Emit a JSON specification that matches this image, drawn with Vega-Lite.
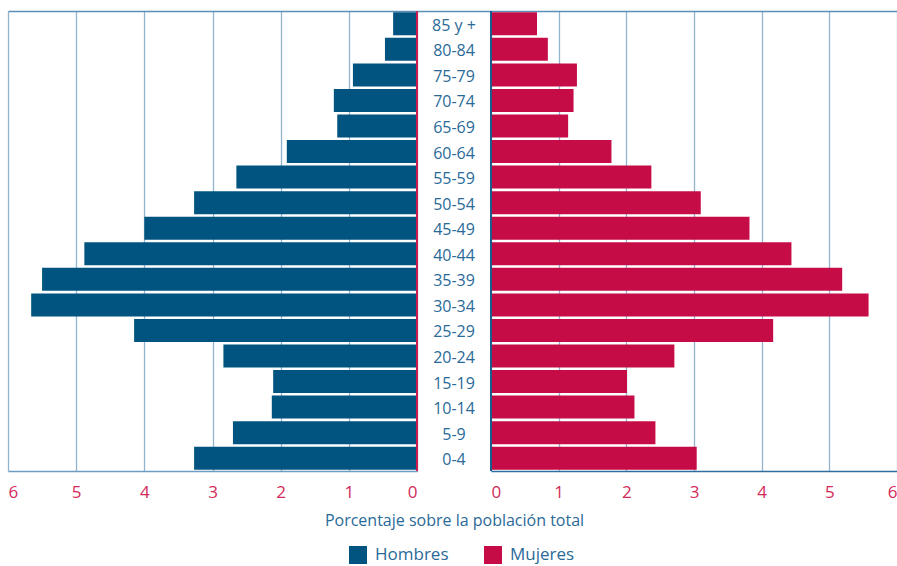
{
  "$schema": "https://vega.github.io/schema/vega-lite/v6.json",
  "padding": {"left": 8, "top": 10, "right": 0, "bottom": 0},
  "background": "white",
  "spacing": 0,
  "bounds": "flush",
  "config": {"view": {"stroke": null}, "font": "Open Sans"},
  "data": {"values": [
    {"age": "85 y +", "sex": "Hombres", "value": 0.35}, {"age": "85 y +", "sex": "Mujeres", "value": 0.68},
    {"age": "80-84", "sex": "Hombres", "value": 0.47}, {"age": "80-84", "sex": "Mujeres", "value": 0.84},
    {"age": "75-79", "sex": "Hombres", "value": 0.94}, {"age": "75-79", "sex": "Mujeres", "value": 1.27},
    {"age": "70-74", "sex": "Hombres", "value": 1.22}, {"age": "70-74", "sex": "Mujeres", "value": 1.22},
    {"age": "65-69", "sex": "Hombres", "value": 1.17}, {"age": "65-69", "sex": "Mujeres", "value": 1.14},
    {"age": "60-64", "sex": "Hombres", "value": 1.91}, {"age": "60-64", "sex": "Mujeres", "value": 1.78},
    {"age": "55-59", "sex": "Hombres", "value": 2.65}, {"age": "55-59", "sex": "Mujeres", "value": 2.37},
    {"age": "50-54", "sex": "Hombres", "value": 3.27}, {"age": "50-54", "sex": "Mujeres", "value": 3.1},
    {"age": "45-49", "sex": "Hombres", "value": 4.0}, {"age": "45-49", "sex": "Mujeres", "value": 3.82},
    {"age": "40-44", "sex": "Hombres", "value": 4.88}, {"age": "40-44", "sex": "Mujeres", "value": 4.44},
    {"age": "35-39", "sex": "Hombres", "value": 5.5}, {"age": "35-39", "sex": "Mujeres", "value": 5.19},
    {"age": "30-34", "sex": "Hombres", "value": 5.66}, {"age": "30-34", "sex": "Mujeres", "value": 5.58},
    {"age": "25-29", "sex": "Hombres", "value": 4.15}, {"age": "25-29", "sex": "Mujeres", "value": 4.17},
    {"age": "20-24", "sex": "Hombres", "value": 2.84}, {"age": "20-24", "sex": "Mujeres", "value": 2.71},
    {"age": "15-19", "sex": "Hombres", "value": 2.11}, {"age": "15-19", "sex": "Mujeres", "value": 2.01},
    {"age": "10-14", "sex": "Hombres", "value": 2.13}, {"age": "10-14", "sex": "Mujeres", "value": 2.12},
    {"age": "5-9", "sex": "Hombres", "value": 2.7}, {"age": "5-9", "sex": "Mujeres", "value": 2.43},
    {"age": "0-4", "sex": "Hombres", "value": 3.27}, {"age": "0-4", "sex": "Mujeres", "value": 3.04}
  ]},
  "hconcat": [
    {
      "width": 409, "height": 460,
      "transform": [{"filter": "datum.sex === 'Hombres'"}],
      "layer": [
        {
          "mark": {"type": "bar"},
          "encoding": {
            "y": {"field": "age", "type": "nominal", "sort": null, "axis": null,
                  "scale": {"domain": ["85 y +","80-84","75-79","70-74","65-69","60-64","55-59","50-54","45-49","40-44","35-39","30-34","25-29","20-24","15-19","10-14","5-9","0-4"], "paddingInner": 0.1, "paddingOuter": 0.05}},
            "x": {"field": "value", "type": "quantitative",
                  "scale": {"domain": [0, 6], "reverse": true, "nice": false},
                  "axis": {"values": [0,1,2,3,4,5,6], "grid": true, "gridColor": "#8fb4d0", "gridWidth": 1.3, "ticks": false, "domain": true, "domainColor": "#6d9dc3", "domainWidth": 1.5, "labelFlush": true, "labelColor": "#d22a5a", "labelFontSize": 17, "labelPadding": 13, "title": null}},
            "color": {"field": "sex", "type": "nominal",
                      "scale": {"domain": ["Hombres", "Mujeres"], "range": ["#00547f", "#c60c46"]},
                      "legend": {"orient": "none", "legendX": 341, "legendY": 535, "direction": "horizontal", "title": null, "symbolType": "square", "symbolSize": 324, "symbolStrokeWidth": 0, "labelFontSize": 17, "labelColor": "#2a6a98", "columnPadding": 35, "labelOffset": 8}}
          }
        },
        {
          "mark": {"type": "rule", "color": "#cc1a50", "strokeWidth": 2},
          "encoding": {"x": {"datum": 0, "type": "quantitative", "axis": {"orient": "top", "labels": false, "ticks": false, "grid": false, "domain": true, "domainColor": "#5b8fb8", "domainWidth": 1.5, "title": null}}}
        }
      ],
      "resolve": {"axis": {"x": "independent"}}
    },
    {
      "width": 74, "height": 460,
      "transform": [{"filter": "datum.sex === 'Hombres'"}],
      "layer": [
        {
          "mark": {"type": "text", "fontSize": 16, "color": "#2a6a98", "align": "center", "baseline": "middle", "dy": 2},
          "encoding": {
            "y": {"field": "age", "type": "nominal", "sort": null, "axis": null,
                  "scale": {"domain": ["85 y +","80-84","75-79","70-74","65-69","60-64","55-59","50-54","45-49","40-44","35-39","30-34","25-29","20-24","15-19","10-14","5-9","0-4"], "paddingInner": 0.1, "paddingOuter": 0.05}},
            "text": {"field": "age"},
            "x": {"datum": 0.5, "type": "quantitative", "scale": {"domain": [0, 1], "nice": false},
                  "axis": {"labels": false, "ticks": false, "domain": false, "grid": false, "title": "Porcentaje sobre la población total", "titleFontSize": 16, "titleColor": "#2a6a98", "titleFontWeight": "normal", "titlePadding": 41}}
          }
        },
        {
          "mark": {"type": "rule", "color": "#1d5b8a", "strokeWidth": 2},
          "encoding": {"x": {"datum": 1, "type": "quantitative", "axis": {"orient": "top", "labels": false, "ticks": false, "grid": false, "domain": true, "domainColor": "#5b8fb8", "domainWidth": 1.5, "title": null}}}
        }
      ],
      "resolve": {"axis": {"x": "independent"}}
    },
    {
      "width": 406, "height": 460,
      "transform": [{"filter": "datum.sex === 'Mujeres'"}],
      "layer": [
        {
          "mark": {"type": "bar"},
          "encoding": {
            "y": {"field": "age", "type": "nominal", "sort": null, "axis": null,
                  "scale": {"domain": ["85 y +","80-84","75-79","70-74","65-69","60-64","55-59","50-54","45-49","40-44","35-39","30-34","25-29","20-24","15-19","10-14","5-9","0-4"], "paddingInner": 0.1, "paddingOuter": 0.05}},
            "x": {"field": "value", "type": "quantitative",
                  "scale": {"domain": [0, 6], "nice": false},
                  "axis": {"values": [0,1,2,3,4,5,6], "grid": true, "gridColor": "#8fb4d0", "gridWidth": 1.3, "ticks": false, "domain": true, "domainColor": "#2f6e9e", "domainWidth": 1.5, "labelFlush": true, "labelColor": "#d22a5a", "labelFontSize": 17, "labelPadding": 13, "title": null}},
            "color": {"field": "sex", "type": "nominal",
                      "scale": {"domain": ["Hombres", "Mujeres"], "range": ["#00547f", "#c60c46"]}}
          }
        },
        {
          "mark": {"type": "rule", "color": "#1d5b8a", "strokeWidth": 2},
          "encoding": {"x": {"datum": 0, "type": "quantitative", "axis": {"orient": "top", "labels": false, "ticks": false, "grid": false, "domain": true, "domainColor": "#5b8fb8", "domainWidth": 1.5, "title": null}}}
        }
      ],
      "resolve": {"axis": {"x": "independent"}}
    }
  ]
}
